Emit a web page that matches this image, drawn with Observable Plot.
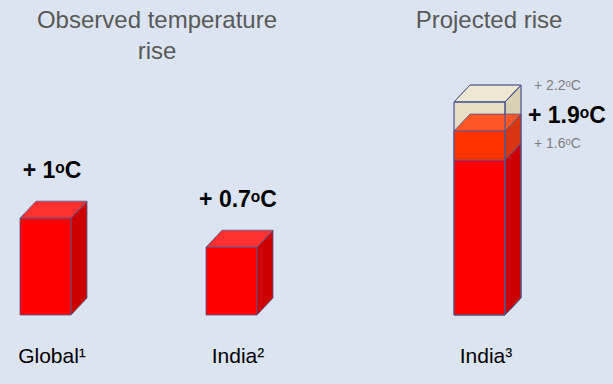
<!DOCTYPE html>
<html>
<head>
<meta charset="utf-8">
<script src="https://cdn.jsdelivr.net/npm/d3@7"></script>
<script src="https://cdn.jsdelivr.net/npm/@observablehq/plot@0.6"></script>
<style>
  html, body { margin: 0; padding: 0; background: #dbe4f0; }
  #chart svg { display: block; }
</style>
</head>
<body>
<div id="chart"></div>
<script>
// ---- data ----
const categories = ["Global¹", "India²", "India³"];
const groups = ["Observed temperature\nrise", "Observed temperature\nrise", "Projected rise"];
const centralRise = [1.0, 0.7, 1.9];          // °C
const valueLabels = ["+ 1ᵒC", "+ 0.7ᵒC", "+ 1.9ᵒC"];
const projectedLow = 1.6;                      // India³ lower estimate
const projectedHigh = 2.2;                     // India³ upper estimate
const rangeValues = [projectedHigh, projectedLow];
const rangeLabels = ["+ 2.2ᵒC", "+ 1.6ᵒC"];

// slot layout of the slide (spacers keep the uneven gaps)
const slots = ["Global¹", " a", " b", "India²", " c", " d", " e", "India³"];

// rows for marks
const bars = categories.map((c, i) => ({cat: c, value: centralRise[i], label: valueLabels[i], group: groups[i]}));
const ranges = rangeValues.map((v, i) => ({cat: "India³", value: v, label: rangeLabels[i]}));

// box segments (stacked from 0)
const palette = {
  red:    {front: "#ff0000", top: "#ff3030", side: "#cc0000"},
  orange: {front: "#ff3300", top: "#ff5628", side: "#d83510"},
  beige:  {front: "#e6dfc4", top: "#eee8d2", side: "#d9d1b3"}
};
const segments = [
  {cat: "Global¹", y1: 0, y2: centralRise[0], c: palette.red},
  {cat: "India²",  y1: 0, y2: centralRise[1], c: palette.red},
  {cat: "India³",  y1: 0, y2: projectedLow, c: palette.red},
  {cat: "India³",  y1: projectedLow, y2: centralRise[2], c: palette.orange}
];
const envelope = {cat: "India³", y1: 0, y2: projectedHigh, c: palette.beige};

const DX = 16, DY = -17, EDGE = "#4e5890";

function boxPaths(g, s, x, y, mode) {
  const bw = x.bandwidth ? x.bandwidth() : 52;
  const x0 = x(s.cat), x1 = x0 + bw;
  const yb = y(s.y1), yt = y(s.y2);
  const faces = [
    {d: `M${x1},${yt}L${x1 + DX},${yt + DY}L${x1 + DX},${yb + DY}L${x1},${yb}Z`, f: s.c.side},
    {d: `M${x0},${yt}L${x1},${yt}L${x1 + DX},${yt + DY}L${x0 + DX},${yt + DY}Z`, f: s.c.top},
    {d: `M${x0},${yb}L${x1},${yb}L${x1},${yt}L${x0},${yt}Z`, f: s.c.front}
  ];
  for (const face of faces) {
    g.append("path")
      .attr("d", face.d)
      .attr("fill", mode === "outline" ? "none" : face.f)
      .attr("stroke", EDGE)
      .attr("stroke-width", 0.8)
      .attr("stroke-linejoin", "round");
  }
}

function boxes(index, scales) {
  const {x, y} = scales;
  const g = d3.create("svg:g");
  boxPaths(g, envelope, x, y, "fill");
  for (const s of segments) boxPaths(g, s, x, y, "fill");
  boxPaths(g, envelope, x, y, "outline");
  return g.node();
}

const font = "'Liberation Sans', Arial, Helvetica, sans-serif";

const chart = Plot.plot({
  width: 613,
  height: 384,
  marginLeft: 20,
  marginRight: 101,
  marginTop: 102,
  marginBottom: 69,
  style: {background: "#dbe4f0", fontFamily: font, overflow: "visible"},
  x: {type: "band", domain: slots, paddingInner: 0.173, paddingOuter: 0, align: 0, axis: null},
  y: {domain: [0, projectedHigh], axis: null},
  marks: [
    boxes,
    // value labels above observed bars
    Plot.text(bars.filter(d => d.cat !== "India³"), {
      x: "cat", y: "value", text: "label", dx: 6, dy: -48,
      fontSize: 23, fontWeight: "bold", fill: "#000", textAnchor: "middle"
    }),
    // central projection label
    Plot.text(bars.filter(d => d.cat === "India³"), {
      x: "cat", y: "value", text: "label", dx: 48, dy: -16,
      fontSize: 23, fontWeight: "bold", fill: "#000", textAnchor: "start"
    }),
    // range labels
    Plot.text(ranges, {
      x: "cat", y: "value", text: "label", dx: 54, dy: -17,
      fontSize: 14, fill: "#7f7f7f", textAnchor: "start"
    }),
    // category labels
    Plot.text(bars, {
      x: "cat", frameAnchor: "bottom", text: "cat", dx: 6, dy: 47,
      fontSize: 21, fill: "#000", textAnchor: "middle"
    }),
    // group titles
    Plot.text(bars.filter(d => d.cat === "Global¹"), {
      x: "cat", frameAnchor: "top", text: "group", dx: 111, dy: -97,
      lineHeight: 1.3, fontSize: 24, fill: "#595959", textAnchor: "middle"
    }),
    Plot.text(bars.filter(d => d.cat === "India³"), {
      x: "cat", frameAnchor: "top", text: "group", dx: 9, dy: -97,
      lineHeight: 1.3, fontSize: 24, fill: "#595959", textAnchor: "middle"
    })
  ]
});
document.getElementById("chart").appendChild(chart);
</script>
</body>
</html>
